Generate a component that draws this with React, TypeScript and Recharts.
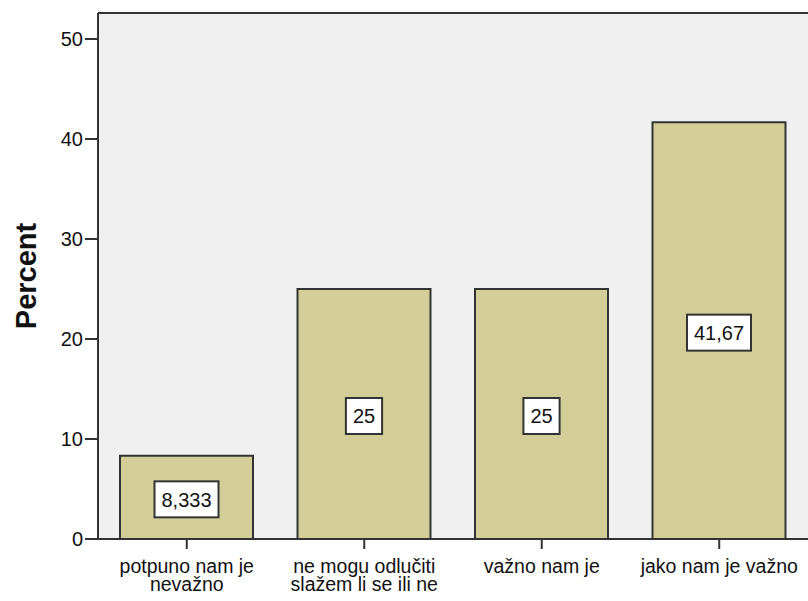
import { BarChart, Bar, XAxis, YAxis, CartesianGrid, ReferenceLine, LabelList } from 'recharts';

const categories = ['potpuno nam je\nnevažno', 'ne mogu odlučiti\nslažem li se ili ne', 'važno nam je', 'jako nam je važno'];
const percents = [8.333, 25, 25, 41.67];
const yTicks = [0, 10, 20, 30, 40, 50];
const yMax = 52.6;

const data = categories.map((c, i) => ({ cat: c, pct: percents[i] }));

const FONT = '"Liberation Sans", Arial, sans-serif';
const INK = '#333333';

const CatTick = ({ x, y, payload }: any) => {
  const lines = String(payload.value).split('\n');
  return (
    <text x={x} y={y} textAnchor="middle" fontFamily={FONT} fontSize={19.5} fill="#111">
      {lines.map((l, i) => (
        <tspan key={i} x={x} y={y + 22 + i * 18}>{l}</tspan>
      ))}
    </text>
  );
};

const ValueBox = ({ x, y, width, height, value }: any) => {
  const txt = String(value).replace('.', ',');
  const w = txt.replace(',', '').length * 11.1 + (txt.includes(',') ? 5.6 : 0) + 14;
  const h = 36;
  const cx = x + width / 2;
  const cy = y + height / 2 + 2;
  return (
    <g>
      <rect x={cx - w / 2} y={cy - h / 2} width={w} height={h} fill="#fff" stroke={INK} strokeWidth={2} />
      <text x={cx} y={cy} dy="0.36em" textAnchor="middle" fontFamily={FONT} fontSize={20} fill="#111">{txt}</text>
    </g>
  );
};

const AxisTitle = ({ viewBox }: any) => {
  const cy = viewBox.y + viewBox.height / 2;
  return (
    <text x={36} y={cy} transform={`rotate(-90 36 ${cy})`} textAnchor="middle"
      fontFamily={FONT} fontSize={29} fontWeight="bold" fill="#111">Percent</text>
  );
};

export default function App() {
  return (
    <div style={{ position: 'absolute', left: 0, top: 0, width: 808, height: 601, background: '#fff' }}>
      <BarChart width={808} height={601} data={data} margin={{ top: 13, right: 0, left: 0, bottom: 0 }}>
        <CartesianGrid fill="#F0F0F0" horizontal={false} vertical={false} />
        <XAxis dataKey="cat" interval={0} height={62} tick={<CatTick />}
          axisLine={{ stroke: INK, strokeWidth: 2 }} tickLine={{ stroke: INK, strokeWidth: 2 }} tickSize={10} />
        <YAxis width={98} domain={[0, yMax]} ticks={yTicks} allowDataOverflow
          tick={{ fill: '#111', fontSize: 20, fontFamily: FONT }}
          axisLine={{ stroke: INK, strokeWidth: 2 }} tickLine={{ stroke: INK, strokeWidth: 2 }} tickSize={13}
          label={<AxisTitle />} />
        <ReferenceLine y={yMax} stroke={INK} strokeWidth={2} />
        <Bar dataKey="pct" barSize={133} fill="#D3CE97" stroke={INK} strokeWidth={2} isAnimationActive={false}>
          <LabelList dataKey="pct" content={<ValueBox />} />
        </Bar>
      </BarChart>
    </div>
  );
}
